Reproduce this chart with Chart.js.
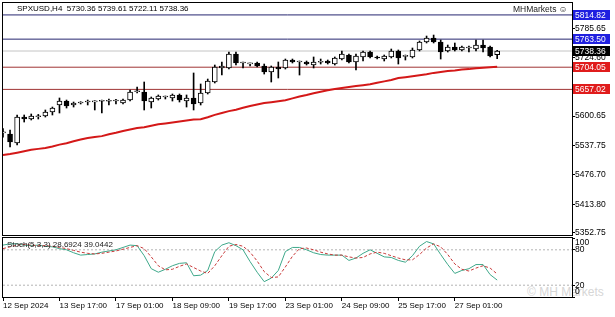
<!DOCTYPE html>
<html>
<head>
<meta charset="utf-8">
<script src="https://cdn.jsdelivr.net/npm/chart.js@4.4.1/dist/chart.umd.min.js"></script>
<style>
    html, body { margin: 0; padding: 0; background: #fff; }
    #wrap { position: relative; width: 615px; height: 317px; background: #fff; overflow: hidden; }
    canvas { position: absolute; left: 0; }
    .txt { position: absolute; font-family: "Liberation Sans", Arial, sans-serif; white-space: pre; color: #000; line-height: 1; }
</style>
</head>
<body>
<div id="wrap">
    <div class="txt" id="agua" style="left:527px;top:286px;font-size:12px;color:#d6d6d6">© MH Markets</div>
    <canvas id="cPrecio" width="615" height="236" style="top:0"></canvas>
    <canvas id="cStoch" width="615" height="81" style="top:236px"></canvas>
    <div class="txt" id="titulo" style="left:17px;top:5px;font-size:8px"></div>
    <div class="txt" id="marca" style="left:513px;top:5px;font-size:8.5px;color:#222">MHMarkets ☺</div>
    <div class="txt" id="stochTxt" style="left:7px;top:241px;font-size:8px;color:#222"></div>
</div>
<script>
/**
 * SPXUSD H4 - velas, media móvil y estocástico (5,3,3)
 */

// Etiquetas del eje de tiempo (índice de vela donde aparece cada una)
const etiquetasTiempo = ['12 Sep 2024', '13 Sep 17:00', '17 Sep 01:00', '18 Sep 09:00', '19 Sep 17:00',
    '23 Sep 01:00', '24 Sep 09:00', '25 Sep 17:00', '27 Sep 01:00'];
const indicesEtiquetas = [0, 8, 16, 24, 32, 40, 48, 56, 64];

// Velas (71 barras H4)
const apertura = [5565.0, 5562.5, 5543.4, 5598.5, 5594.3, 5599.0, 5600.7, 5609.1, 5624.0, 5632.4,
    5624.0, 5628.2, 5630.3, 5630.5, 5632.0, 5632.0, 5632.5, 5628.2, 5634.5, 5652.0,
    5651.5, 5630.3, 5636.7, 5641.0, 5638.8, 5645.2, 5632.4, 5638.8, 5628.2, 5649.4,
    5672.7, 5702.4, 5702.4, 5732.0, 5713.0, 5711.0, 5713.0, 5706.6, 5693.9, 5704.5,
    5702.4, 5719.3, 5715.1, 5715.1, 5708.7, 5714.5, 5717.2, 5710.8, 5721.4, 5729.9,
    5715.1, 5725.7, 5736.3, 5725.7, 5721.4, 5725.7, 5738.4, 5727.0, 5725.7, 5740.5,
    5757.5, 5765.9, 5757.5, 5738.4, 5746.9, 5740.5, 5744.7, 5742.6, 5751.1, 5746.9,
    5730.36];
const maximo = [5574.0, 5571.0, 5602.8, 5602.8, 5604.9, 5604.0, 5613.4, 5619.7, 5638.8, 5634.5,
    5630.3, 5631.0, 5634.5, 5633.0, 5634.5, 5636.7, 5636.0, 5636.7, 5655.7, 5662.0,
    5672.7, 5640.9, 5645.2, 5643.0, 5647.3, 5647.3, 5645.2, 5691.8, 5668.5, 5679.0,
    5708.7, 5715.1, 5736.3, 5736.3, 5715.1, 5713.0, 5715.1, 5710.8, 5706.6, 5715.1,
    5721.4, 5721.4, 5717.2, 5717.2, 5725.7, 5721.4, 5719.3, 5725.7, 5738.4, 5732.0,
    5732.0, 5738.4, 5738.4, 5727.8, 5729.9, 5742.6, 5740.5, 5729.9, 5744.7, 5759.6,
    5770.1, 5772.2, 5761.7, 5751.1, 5755.3, 5749.0, 5749.0, 5761.7, 5761.7, 5749.0,
    5739.61];
const minimo = [5556.0, 5535.0, 5539.2, 5587.9, 5592.2, 5594.3, 5598.5, 5602.8, 5607.0, 5617.6,
    5619.7, 5626.1, 5624.0, 5613.4, 5607.0, 5624.0, 5626.1, 5626.1, 5632.4, 5649.4,
    5613.4, 5617.6, 5634.5, 5636.7, 5632.4, 5630.3, 5619.7, 5613.4, 5624.0, 5647.3,
    5670.6, 5687.5, 5700.2, 5708.7, 5702.4, 5706.6, 5704.5, 5689.6, 5672.7, 5681.2,
    5700.2, 5713.0, 5687.5, 5708.7, 5702.4, 5710.8, 5710.8, 5708.7, 5719.3, 5713.0,
    5698.1, 5717.2, 5723.6, 5721.4, 5717.2, 5723.6, 5710.8, 5719.3, 5723.6, 5738.4,
    5755.4, 5755.4, 5721.4, 5736.3, 5738.4, 5738.4, 5736.3, 5738.4, 5736.3, 5725.7,
    5722.11];
const cierre = [5566.5, 5545.6, 5598.5, 5594.3, 5600.7, 5599.5, 5609.1, 5617.6, 5632.4, 5621.8,
    5628.2, 5629.0, 5631.0, 5631.2, 5632.5, 5633.0, 5633.2, 5634.5, 5651.5, 5653.6,
    5632.4, 5638.8, 5643.0, 5641.5, 5645.2, 5634.5, 5638.8, 5626.1, 5649.4, 5674.8,
    5704.5, 5706.6, 5732.0, 5713.0, 5714.0, 5712.0, 5706.6, 5693.9, 5704.5, 5700.2,
    5719.3, 5715.1, 5716.0, 5710.8, 5715.1, 5715.5, 5713.0, 5723.6, 5732.0, 5715.1,
    5727.8, 5736.3, 5725.7, 5723.6, 5727.8, 5738.4, 5723.6, 5728.0, 5740.5, 5757.5,
    5765.9, 5757.5, 5736.3, 5746.9, 5740.5, 5746.9, 5745.5, 5751.1, 5744.7, 5727.8,
    5738.36];

// Media móvil (línea roja)
const mediaMovil = [5518, 5520, 5523, 5526, 5529, 5531, 5533, 5536, 5540, 5543,
    5547, 5551, 5554, 5556, 5558, 5562, 5565, 5569, 5572, 5575,
    5577, 5580, 5583, 5585, 5587, 5589, 5591, 5593, 5594, 5598,
    5603, 5607, 5611, 5614, 5618, 5622, 5625, 5628, 5630, 5632,
    5634, 5638, 5642, 5645, 5649, 5652, 5655, 5658, 5660, 5662,
    5664, 5666, 5668, 5671, 5674, 5677, 5681, 5683, 5685, 5687,
    5689, 5692, 5694, 5696, 5697, 5699, 5700, 5702, 5703, 5704,
    5705];

// Estocástico (5,3,3)
const stochPrincipal = [88, 90, 90, 88, 87, 88, 86, 85, 82, 80,
    75, 71, 72, 73, 76, 78, 80, 84, 88, 87,
    70, 48, 42, 47, 53, 57, 58, 36, 37, 45,
    77, 88, 92, 87, 80, 60, 42, 26, 32, 45,
    77, 84, 84, 80, 75, 72, 71, 71, 71, 62,
    66, 74, 80, 74, 68, 67, 62, 59, 70, 86,
    94, 90, 72, 55, 40, 45, 48, 55, 55, 38,
    28.6924];
const stochSenal = [82, 85, 88, 89, 88, 87, 87, 86, 84, 82,
    79, 76, 74, 73, 74, 76, 78, 81, 84, 87,
    82, 68, 53, 46, 47, 52, 56, 50, 44, 40,
    53, 70, 86, 89, 86, 76, 61, 43, 33, 34,
    51, 69, 82, 83, 80, 76, 73, 71, 71, 68,
    66, 67, 73, 76, 74, 70, 66, 63, 63, 72,
    83, 90, 85, 72, 56, 47, 44, 49, 53, 49,
    39.0442];

// Niveles horizontales y marcas de los ejes
const nivelesPrecio = [5814.82, 5763.50, 5738.36, 5704.05, 5657.02];
const ticksPrecio = [5785.65, 5724.60, 5600.65, 5537.75, 5476.70, 5413.80, 5352.75];
const nivelesStoch = [80, 20];
const ticksStoch = [100, 80, 20, 0];

// Estilos
const FUENTE = '"Liberation Sans", Arial, sans-serif';
const ESTILO_NIVELES = [
    { linea: '#262670', caja: '#2020e0' },
    { linea: '#262670', caja: '#2020e0' },
    { linea: '#c4c4c4', caja: '#000000' },
    { linea: '#a03434', caja: '#e01c1c' },
    { linea: '#a03434', caja: '#e01c1c' }
];
const X_MAX = 80.6;
const Y_MIN = 5348.5;
const Y_MAX = 5840.1;

const ultimo = cierre.length - 1;
document.getElementById('titulo').textContent = 'SPXUSD,H4  ' + [apertura[ultimo], maximo[ultimo], minimo[ultimo], cierre[ultimo]]
    .map(v => v.toFixed(2)).join(' ');
document.getElementById('stochTxt').textContent = 'Stoch(5,3,3) ' + stochPrincipal[ultimo].toFixed(4) + ' ' + stochSenal[ultimo].toFixed(4);

// Marco negro alrededor del área del gráfico
const marcoPlugin = {
    id: 'marco',
    afterDraw(chart) {
        const { ctx, chartArea: a } = chart;
        ctx.save();
        ctx.strokeStyle = '#000';
        ctx.lineWidth = 1;
        ctx.strokeRect(Math.round(a.left) - 0.5, Math.round(a.top) - 0.5,
            Math.round(a.right - a.left) + 1, Math.round(a.bottom - a.top) + 1);
        ctx.restore();
    }
};

// Cajas de precio en el eje derecho
const cajasPlugin = {
    id: 'cajas',
    afterDraw(chart) {
        const { ctx } = chart;
        const y = chart.scales.y;
        ctx.save();
        ctx.font = '8.5px ' + FUENTE;
        ctx.textBaseline = 'middle';
        nivelesPrecio.forEach((v, i) => {
            const py = Math.round(y.getPixelForValue(v));
            ctx.fillStyle = ESTILO_NIVELES[i].caja;
            ctx.fillRect(y.left + 1, py - 5, 37, 10);
            ctx.fillStyle = '#fff';
            ctx.fillText(v.toFixed(2), y.left + 3, py + 0.5);
        });
        ctx.restore();
    }
};

function lineaHorizontal(valor, color, dash, orden) {
    return {
        type: 'line',
        data: [{ x: 0, y: valor }, { x: X_MAX, y: valor }],
        borderColor: color,
        borderWidth: 1,
        borderDash: dash,
        pointRadius: 0,
        order: orden
    };
}

const alcista = apertura.map((o, i) => cierre[i] >= o);

// Gráfico de precio
new Chart(document.getElementById('cPrecio'), {
    type: 'bar',
    data: {
        datasets: [
            ...nivelesPrecio.map((v, i) => lineaHorizontal(v, ESTILO_NIVELES[i].linea, [], 5)),
            {
                type: 'bar',
                data: apertura.map((o, i) => ({ x: i, y: [minimo[i], maximo[i]] })),
                barThickness: 1,
                backgroundColor: '#000',
                borderWidth: 0,
                grouped: false,
                order: 3
            },
            {
                type: 'bar',
                data: apertura.map((o, i) => ({ x: i, y: [o, cierre[i]] })),
                barThickness: 5,
                backgroundColor: alcista.map(a => a ? '#fff' : '#000'),
                borderColor: '#000',
                borderWidth: 1,
                borderSkipped: false,
                minBarLength: 1,
                grouped: false,
                order: 2
            },
            {
                type: 'line',
                data: mediaMovil.map((v, i) => ({ x: i, y: v })),
                borderColor: '#d41818',
                borderWidth: 2,
                pointRadius: 0,
                order: 1
            }
        ]
    },
    options: {
        responsive: false,
        animation: false,
        layout: { padding: { left: 3, top: 3, right: 0, bottom: 1 } },
        plugins: { legend: { display: false }, tooltip: { enabled: false } },
        scales: {
            x: { type: 'linear', min: 0, max: X_MAX, display: false, offset: false, grid: { offset: false } },
            y: {
                position: 'right',
                min: Y_MIN,
                max: Y_MAX,
                afterBuildTicks: s => { s.ticks = ticksPrecio.map(v => ({ value: v })); },
                afterFit: s => { s.width = 43; s.paddingTop = 0; s.paddingBottom = 0; },
                ticks: {
                    autoSkip: false,
                    padding: 0,
                    color: '#000',
                    font: { family: FUENTE, size: 8.5 },
                    callback: v => Number(v).toFixed(2)
                },
                grid: { drawOnChartArea: false, drawTicks: true, tickLength: 3, color: '#000' },
                border: { display: false }
            }
        }
    },
    plugins: [marcoPlugin, cajasPlugin]
});

// Gráfico del estocástico
new Chart(document.getElementById('cStoch'), {
    type: 'line',
    data: {
        datasets: [
            ...nivelesStoch.map(v => lineaHorizontal(v, '#b4b4b4', [2, 2], 3)),
            {
                data: stochPrincipal.map((v, i) => ({ x: i, y: v })),
                borderColor: '#3ea88a',
                borderWidth: 1,
                pointRadius: 0,
                order: 2
            },
            {
                data: stochSenal.map((v, i) => ({ x: i, y: v })),
                borderColor: '#c83a3a',
                borderWidth: 1,
                borderDash: [3, 2],
                pointRadius: 0,
                order: 1
            }
        ]
    },
    options: {
        responsive: false,
        animation: false,
        layout: { padding: { left: 3, top: 2, right: 0, bottom: 0 } },
        plugins: { legend: { display: false }, tooltip: { enabled: false } },
        scales: {
            x: {
                type: 'linear',
                min: 0,
                max: X_MAX,
                offset: false,
                afterBuildTicks: s => { s.ticks = indicesEtiquetas.map(v => ({ value: v })); },
                afterFit: s => { s.height = 20; s.paddingLeft = 0; s.paddingRight = 0; },
                ticks: {
                    autoSkip: false,
                    maxRotation: 0,
                    minRotation: 0,
                    align: 'start',
                    padding: 0,
                    color: '#000',
                    font: { family: FUENTE, size: 8 },
                    callback: v => etiquetasTiempo[indicesEtiquetas.indexOf(v)]
                },
                grid: { drawOnChartArea: false, drawTicks: true, tickLength: 4, color: '#000' },
                border: { display: false }
            },
            y: {
                position: 'right',
                min: 0,
                max: 100,
                afterBuildTicks: s => { s.ticks = ticksStoch.map(v => ({ value: v })); },
                afterFit: s => { s.width = 43; s.paddingTop = 0; s.paddingBottom = 0; },
                ticks: {
                    autoSkip: false,
                    padding: 0,
                    color: '#000',
                    font: { family: FUENTE, size: 8.5 },
                    callback: v => v === 100 ? ['', '100'] : (v === 0 ? ['0', ''] : String(v))
                },
                grid: { drawOnChartArea: false, drawTicks: true, tickLength: 3, color: '#000' },
                border: { display: false }
            }
        }
    },
    plugins: [marcoPlugin]
});
</script>
</body>
</html>
